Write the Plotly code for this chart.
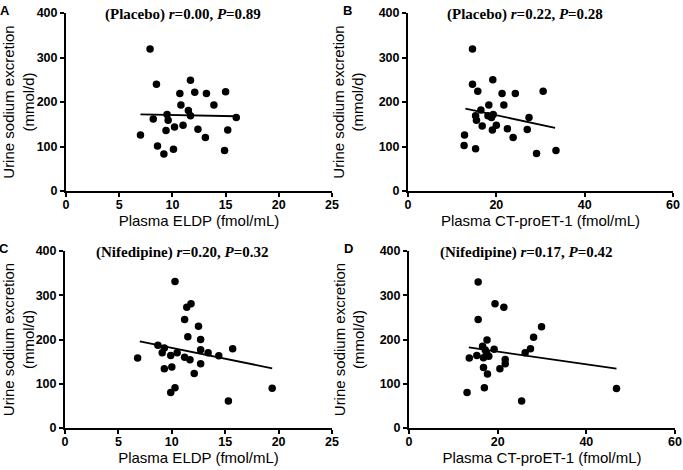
import plotly.graph_objects as go

# ---------------- data ----------------
# Panel A: Placebo, ELDP
a_x = [7.9, 8.5, 10.7, 11.7, 12.1, 13.2, 15.0, 10.8, 13.9, 11.5, 9.5, 8.2, 9.6, 11.7,
       16.0, 10.2, 11.0, 9.4, 12.4, 15.2, 13.1, 7.0, 8.6, 9.2, 10.1, 14.9]
a_y = [319, 240, 219, 249, 222, 219, 223, 193, 193, 181, 172, 162, 159, 169,
       165, 144, 148, 136, 139, 137, 120, 126, 101, 83, 94, 91]
a_fit_x = [7.0, 16.0]
a_fit_y = [172, 168]

# Panel B: Placebo, CT-proET-1
b_x = [14.6, 14.6, 19.2, 15.8, 21.3, 24.3, 30.6, 18.3, 21.7, 16.5, 15.3, 15.5, 18.1, 18.9,
       19.3, 20.0, 16.8, 19.1, 22.5, 27.4, 27.0, 23.8, 12.8, 12.7, 15.3, 29.1, 33.5]
b_y = [319, 240, 250, 224, 219, 219, 224, 193, 193, 182, 169, 159, 169, 165,
       172, 148, 146, 137, 140, 165, 138, 120, 126, 102, 95, 84, 91]
b_fit_x = [13.0, 33.3]
b_fit_y = [185, 142]

# Panel C: Nifedipine, ELDP
c_x = [10.3, 11.4, 11.8, 11.2, 12.5, 11.5, 12.7, 12.7, 13.4, 14.4, 15.7, 6.8, 8.7, 9.3,
       9.1, 9.9, 10.5, 11.2, 11.7, 12.7, 9.3, 10.0, 12.1, 10.3, 9.9, 19.4, 15.3]
c_y = [331, 273, 281, 245, 230, 206, 200, 177, 170, 163, 179, 158, 187, 181,
       170, 164, 170, 160, 154, 145, 134, 138, 123, 91, 80, 90, 61]
c_fit_x = [7.0, 19.4]
c_fit_y = [196, 135]

# Panel D: Nifedipine, CT-proET-1
d_x = [15.6, 15.6, 19.4, 21.4, 29.9, 28.1, 17.6, 27.4, 26.2, 13.6, 15.3, 16.6, 17.2, 19.2,
       17.5, 18.0, 16.8, 21.7, 21.7, 20.5, 16.8, 17.7, 17.0, 13.1, 25.4, 46.8]
d_y = [330, 245, 281, 273, 229, 205, 199, 179, 170, 158, 164, 185, 176, 178,
       169, 162, 159, 155, 145, 134, 137, 122, 91, 80, 61, 89]
d_fit_x = [13.5, 46.8]
d_fit_y = [182, 134]

panel_letters = ["A", "B", "C", "D"]
panel_notes = [
    "(Placebo) <i>r</i>=0.00, <i>P</i>=0.89",
    "(Placebo) <i>r</i>=0.22, <i>P</i>=0.28",
    "(Nifedipine) <i>r</i>=0.20, <i>P</i>=0.32",
    "(Nifedipine) <i>r</i>=0.17, <i>P</i>=0.42",
]
x_titles = ["Plasma ELDP (fmol/mL)", "Plasma CT-proET-1 (fmol/mL)",
            "Plasma ELDP (fmol/mL)", "Plasma CT-proET-1 (fmol/mL)"]
y_title = "Urine sodium excretion<br>(mmol/d)"
x_ranges = [[0, 25], [0, 60], [0, 25], [0, 60]]
x_dticks = [5, 20, 5, 20]
y_range = [0, 400]
y_dtick = 100

# ---------------- figure ----------------
W, H = 683, 470
# plot areas in pixels (left, right, top, bottom)
boxes = [(66, 332, 13, 191), (408, 673, 13, 191),
         (65, 332, 251, 428), (409, 675, 251, 428)]

series = [(a_x, a_y, a_fit_x, a_fit_y), (b_x, b_y, b_fit_x, b_fit_y),
          (c_x, c_y, c_fit_x, c_fit_y), (d_x, d_y, d_fit_x, d_fit_y)]

fig = go.Figure()
annotations = []
tick_font = dict(family="Liberation Sans, Arial", size=12.5, color="black", weight="bold")
title_font = dict(family="Liberation Sans, Arial", size=15, color="black")

for i, ((sx, sy, fx, fy), (l, r, t, b)) in enumerate(zip(series, boxes)):
    n = "" if i == 0 else str(i + 1)
    xa, ya = "x" + n, "y" + n
    fig.add_trace(go.Scatter(x=sx, y=sy, mode="markers", xaxis=xa, yaxis=ya,
                             marker=dict(color="black", size=7.5), showlegend=False,
                             cliponaxis=False))
    fig.add_trace(go.Scatter(x=fx, y=fy, mode="lines", xaxis=xa, yaxis=ya,
                             line=dict(color="black", width=1.8), showlegend=False))
    common = dict(showline=True, linecolor="black", linewidth=2, ticks="outside",
                  ticklen=4, tickwidth=2, tickcolor="black", showgrid=False,
                  zeroline=False, tickfont=tick_font, automargin=False)
    fig.update_layout(**{
        "xaxis" + n: dict(domain=[l / W, r / W], range=x_ranges[i], dtick=x_dticks[i],
                          tick0=0, anchor=ya, ticklabelstandoff=-3,
                          title=dict(text=x_titles[i], font=title_font, standoff=3),
                          **common),
        "yaxis" + n: dict(domain=[1 - b / H, 1 - t / H], range=y_range, dtick=y_dtick,
                          tick0=0, anchor=xa,
                          title=dict(text=y_title, font=title_font, standoff=11),
                          **common),
    })
    annotations.append(dict(text=panel_letters[i], x=(l - 61) / W, y=1 - (t - 3) / H,
                            xref="paper", yref="paper", xanchor="center", yanchor="middle",
                            showarrow=False,
                            font=dict(family="Liberation Sans, Arial", size=13,
                                      color="black", weight="bold")))
    annotations.append(dict(text="<b>" + panel_notes[i] + "</b>",
                            x=(l + (r - l) * 0.44) / W, y=1 - (t + 1) / H,
                            xref="paper", yref="paper", xanchor="center", yanchor="middle",
                            showarrow=False,
                            font=dict(family="Liberation Serif, Times New Roman", size=15,
                                      color="black")))

fig.update_layout(width=W, height=H, margin=dict(l=0, r=0, t=0, b=0),
                  paper_bgcolor="white", plot_bgcolor="white",
                  annotations=annotations, showlegend=False)

fig.write_html("out.html", config={"displayModeBar": False},
               post_script="document.body.style.margin='0';")
